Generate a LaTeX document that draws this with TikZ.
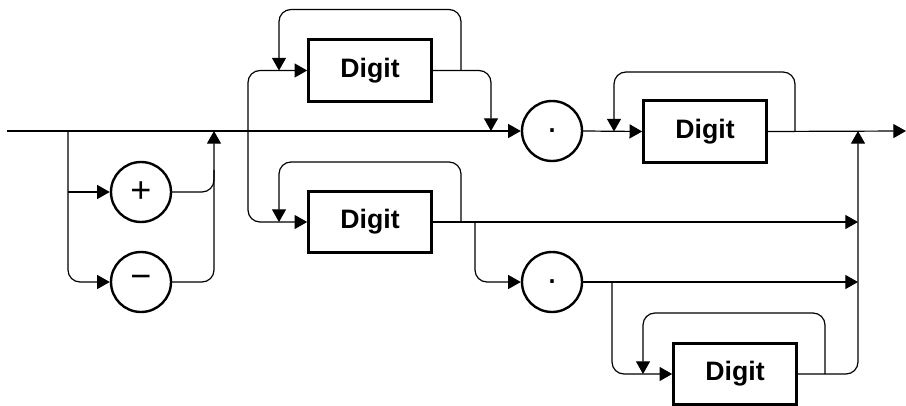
\documentclass[tikz,border=0pt]{standalone}
\usepackage{fontspec}
\setmainfont{Liberation Sans}
\usetikzlibrary{arrows.meta}
\tikzset{
  wire/.style={line width=0.9pt, rounded corners=9pt},
  flow/.style={wire, -{Triangle[length=9.5pt,width=10.5pt]}},
  digitbox/.style={draw, line width=2.2pt, minimum width=92pt, minimum height=46pt, inner sep=0pt, font=\fontsize{20}{24}\selectfont\bfseries},
  sign/.style={draw, circle, line width=1.8pt, minimum size=45pt, inner sep=0pt, font=\fontsize{27}{30}\selectfont},
}
\begin{document}
\begin{tikzpicture}[x=0.75pt, y=-0.75pt]
  \useasboundingbox (0,0) rectangle (906,406);
  % nodes
  \node[sign] (plus) at (141,192) {+};
  \node[sign] (minus) at (141,282) {−};
  \node[digitbox] (digitA) at (370,70.5) {Digit};
  \node[digitbox] (digitB) at (370,222) {Digit};
  \node[sign] (dotA) at (552,131) {.};
  \node[digitbox] (digitC) at (705,131.5) {Digit};
  \node[sign] (dotB) at (552,282) {.};
  \node[digitbox] (digitD) at (735,374) {Digit};
  \coordinate (start) at (7,131);
  \coordinate (stop) at (906,131);
  % main line
  \draw[flow] (start) -- (dotA.west);
  \draw[flow] (dotA.east) -- (digitC.west);
  \draw[flow] (digitC.east) -- (stop);
  % sign
  \draw[flow] (68,131) -- (68,282) -- (minus.west);
  \draw[flow] (68,192) -- (plus.west);
  \draw[wire] (plus.east) -- (214,192) -- (214,170);
  \draw[flow] (minus.east) -- (214,282) -- (214,131);
  % upper digits
  \draw[flow] (248,131) -- (248,70.5) -- (digitA.west);
  \draw[flow] (248,131) -- (248,222) -- (digitB.west);
  \draw[flow] (461,70.5) -- (461,9.5) -- (279,9.5) -- (279,70.5);
  \draw[flow] (digitA.east) -- (491,70.5) -- (491,131);
  \draw[flow] (461,222) -- (461,162) -- (279,162) -- (279,222);
  \draw[flow] (digitB.east) -- (858,222);
  \draw[flow] (795,131.5) -- (795,72) -- (614,72) -- (614,131.5);
  % lower fraction
  \draw[flow] (475,222) -- (475,282) -- (dotB.west);
  \draw[flow] (dotB.east) -- (858,282);
  \draw[flow] (612,282) -- (612,374) -- (digitD.west);
  \draw[flow] (825,374) -- (825,313) -- (643,313) -- (643,374);
  \draw[flow] (digitD.east) -- (858,374) -- (858,131);
\end{tikzpicture}
\end{document}
